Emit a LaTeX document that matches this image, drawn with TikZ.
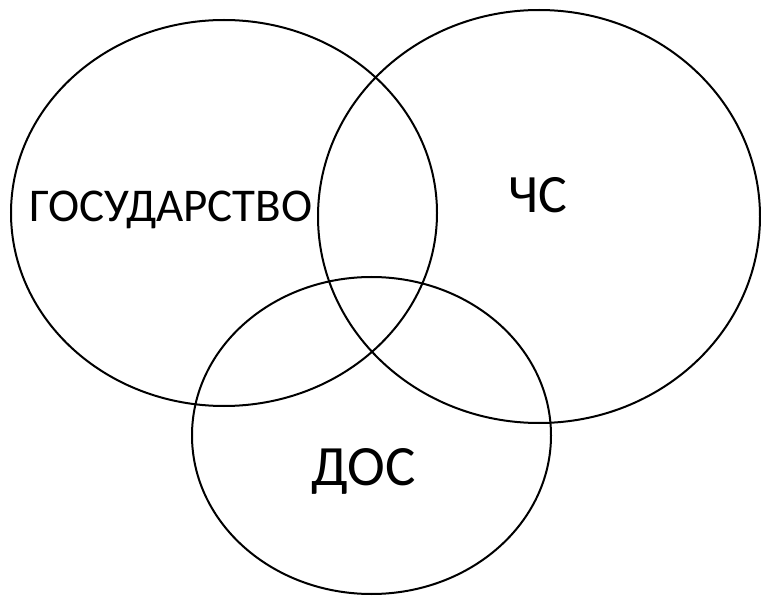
\documentclass[tikz,border=0pt]{standalone}
\usepackage{fontspec}
\setmainfont{Carlito}
\begin{document}
\begin{tikzpicture}[x=1pt,y=-1pt,
  ring/.style={draw=black,line width=2pt},
  lbl/.style={anchor=base,inner sep=0pt,text=black}]
\useasboundingbox (0,0) rectangle (761,596);
\draw[ring] (224,213) ellipse [x radius=213,y radius=193];
\draw[ring] (539,216.5) ellipse [x radius=221,y radius=206.5];
\draw[ring] (371.5,435.5) ellipse [x radius=179.5,y radius=158.5];
\node[lbl,font=\fontsize{47}{47}\selectfont] (gos) at (171,221.7) {ГОСУДАРСТВО};
\node[lbl,font=\fontsize{54}{54}\selectfont] (chs) at (538,213) {ЧС};
\node[lbl,font=\fontsize{57}{57}\selectfont] (dos) at (363.5,485) {ДОС};
\end{tikzpicture}
\end{document}
